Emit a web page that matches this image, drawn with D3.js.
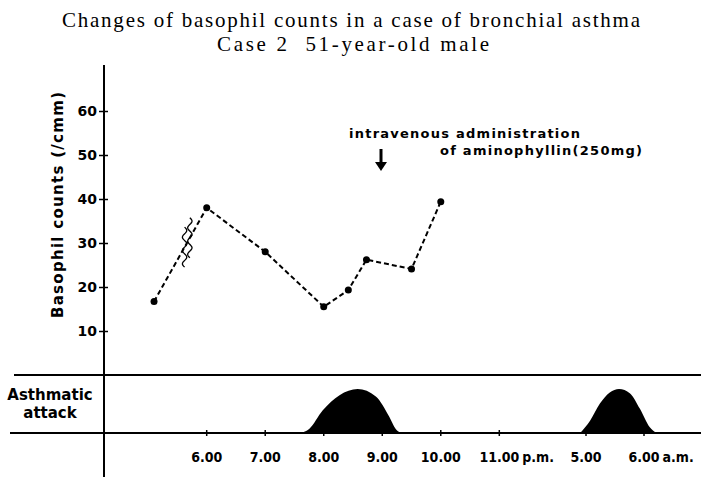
<!DOCTYPE html>
<html>
<head>
<meta charset="utf-8">
<script src="https://cdnjs.cloudflare.com/ajax/libs/d3/7.8.5/d3.min.js"></script>
<style>
  body { margin: 0; background: #fff; }
  svg { display: block; }
  .bold { font-family: "DejaVu Sans", sans-serif; font-weight: bold; fill: #000; }
  .cond { font-family: "DejaVu Sans Condensed", "DejaVu Sans", sans-serif; font-stretch: condensed; font-weight: bold; fill: #000; }
</style>
</head>
<body>
<script>
// data
var times = [5.1, 6, 7, 8, 8.42, 8.73, 9.5, 10];          // hours (p.m.)
var counts = [16.7, 38.0, 28.0, 15.5, 19.3, 26.2, 24.1, 39.4];
var yTicks = [10, 20, 30, 40, 50, 60];
var xTickHours = [6, 7, 8, 9, 10, 11, 29, 30];             // 29 = 5 a.m. next day
var xTickLabels = ['6.00', '7.00', '8.00', '9.00', '10.00', '11.00', '5.00', '6.00'];
var xTickSuffix = ['', '', '', '', '', 'p.m.', '', 'a.m.'];
var attack1Times = [7.61, 7.75, 7.98, 8.27, 8.58, 8.89, 9.12, 9.23, 9.32];
var attack1Level = [0, 0.09, 0.51, 0.86, 1, 0.83, 0.37, 0.09, 0];
var attack2Times = [28.9, 29.07, 29.24, 29.41, 29.57, 29.76, 29.93, 30.1, 30.21];
var attack2Level = [0, 0.28, 0.67, 0.92, 1, 0.9, 0.55, 0.13, 0];

var W = 701, H = 477;
var svg = d3.select('body').append('svg')
    .attr('width', W)
    .attr('height', H);

// time axis with a break between 11 p.m. and 4 a.m.
var x = d3.scaleLinear().domain([6, 11, 28, 30]).range([206.7, 499.3, 528, 644]);
var y = d3.scaleLinear().domain([0, 60]).range([375, 111]);
var ya = d3.scaleLinear().domain([0, 1]).range([433, 389]);
var axisX = 104;

// title
svg.append('text').attr('x', 351).attr('y', 27)
    .attr('text-anchor', 'middle')
    .attr('textLength', 578).attr('lengthAdjust', 'spacing')
    .style('font-family', '"Liberation Serif", serif').style('font-size', '21px')
    .text('Changes of basophil counts in a case of bronchial asthma');
svg.append('text').attr('x', 353).attr('y', 51)
    .attr('text-anchor', 'middle')
    .attr('textLength', 272).attr('lengthAdjust', 'spacing')
    .style('font-family', '"Liberation Serif", serif').style('font-size', '21px')
    .attr('xml:space', 'preserve')
    .text('Case 2  51-year-old male');

// horizontal rules
svg.append('line').attr('x1', 14).attr('x2', W).attr('y1', y(0)).attr('y2', y(0))
    .attr('stroke', '#000').attr('stroke-width', 2);
svg.append('line').attr('x1', 10).attr('x2', W).attr('y1', ya(0)).attr('y2', ya(0))
    .attr('stroke', '#000').attr('stroke-width', 2);

// y axis
var yAxis = svg.append('g')
    .attr('transform', 'translate(' + axisX + ',0)')
    .call(d3.axisLeft(y).tickValues(yTicks).tickSize(5).tickPadding(2));
yAxis.select('.domain').remove();
yAxis.selectAll('.tick line').attr('x1', 4).attr('stroke-width', 1.5);
yAxis.selectAll('.tick text').attr('class', 'bold').style('font-size', '14px');
svg.append('line').attr('x1', axisX).attr('x2', axisX).attr('y1', 65).attr('y2', H)
    .attr('stroke', '#000').attr('stroke-width', 2);

svg.append('text').attr('class', 'bold')
    .attr('transform', 'translate(63,205) rotate(-90)')
    .attr('text-anchor', 'middle')
    .attr('textLength', 226).attr('lengthAdjust', 'spacing')
    .style('font-size', '15px')
    .text('Basophil counts (/cmm)');

// x ticks on the lower rule
var xt = svg.append('g').selectAll('g').data(xTickHours).enter().append('g')
    .attr('transform', function(d) { return 'translate(' + x(d) + ',' + ya(0) + ')'; });
xt.append('line').attr('y1', -3).attr('y2', 3).attr('stroke', '#000').attr('stroke-width', 1.5);
xt.append('text').attr('class', 'cond')
    .attr('y', 29).attr('text-anchor', 'middle').style('font-size', '14px')
    .text(function(d, i) { return xTickLabels[i]; })
    .each(function(d, i) {
        if (!xTickSuffix[i]) return;
        var w = this.getComputedTextLength();
        d3.select(this.parentNode).append('text').attr('class', 'cond')
            .attr('x', w / 2 + 3).attr('y', 29).style('font-size', '14px')
            .text(xTickSuffix[i]);
    });

// asthmatic attack label
svg.append('text').attr('class', 'bold').attr('x', 50).attr('y', 400)
    .attr('text-anchor', 'middle').style('font-size', '15px').text('Asthmatic');
svg.append('text').attr('class', 'bold').attr('x', 50).attr('y', 418)
    .attr('text-anchor', 'middle').style('font-size', '15px').text('attack');

// attack humps
var area = d3.area()
    .x(function(d) { return x(d[0]); })
    .y0(ya(0))
    .y1(function(d) { return ya(d[1]); })
    .curve(d3.curveMonotoneX);
[[attack1Times, attack1Level], [attack2Times, attack2Level]].forEach(function(a) {
    svg.append('path').datum(d3.zip(a[0], a[1])).attr('d', area).attr('fill', '#000');
});

// basophil line
var pts = d3.zip(times, counts);
svg.append('path').datum(pts)
    .attr('d', d3.line().x(function(d) { return x(d[0]); }).y(function(d) { return y(d[1]); }))
    .attr('fill', 'none').attr('stroke', '#000').attr('stroke-width', 2)
    .attr('stroke-dasharray', '5,3');
svg.selectAll('circle.pt').data(pts).enter().append('circle')
    .attr('cx', function(d) { return x(d[0]); })
    .attr('cy', function(d) { return y(d[1]); })
    .attr('r', 3.5).attr('fill', '#000');

// break marks on the first segment
var p0 = pts[0], p1 = pts[1];
[0.58, 0.68].forEach(function(t) {
    var cx = x(p0[0]) + t * (x(p1[0]) - x(p0[0]));
    var cy = y(p0[1]) + t * (y(p1[1]) - y(p0[1]));
    var d = [];
    for (var k = 0; k <= 40; k++) {
        var s = k / 40;
        d.push([cx + 2.2 * Math.sin(s * Math.PI * 6), cy - 20 + 40 * s]);
    }
    svg.append('path').attr('d', d3.line()(d))
        .attr('fill', 'none').attr('stroke', '#000').attr('stroke-width', 1.3);
});

// annotation
svg.append('text').attr('class', 'bold').attr('x', 349).attr('y', 138)
    .style('font-size', '13px').attr('textLength', 231).attr('lengthAdjust', 'spacing')
    .text('intravenous administration');
svg.append('text').attr('class', 'bold').attr('x', 440).attr('y', 155)
    .style('font-size', '13px').attr('textLength', 202).attr('lengthAdjust', 'spacing')
    .text('of aminophyllin(250mg)');
svg.append('line').attr('x1', 381).attr('x2', 381).attr('y1', 149).attr('y2', 163)
    .attr('stroke', '#000').attr('stroke-width', 3);
svg.append('path').attr('d', 'M375,162 L387,162 L381,171 Z').attr('fill', '#000');
</script>
</body>
</html>
